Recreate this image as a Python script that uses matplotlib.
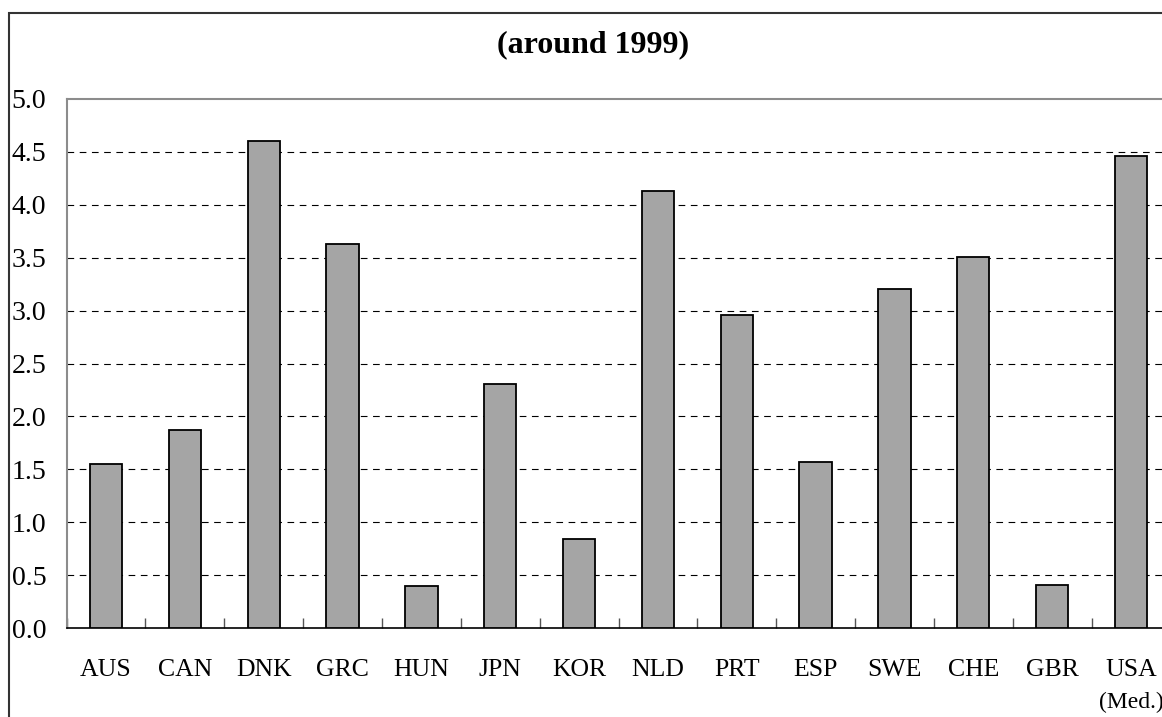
import matplotlib.pyplot as plt
import matplotlib.patches as mpatches
import numpy as np

plt.rcParams['font.family'] = ['Liberation Serif', 'DejaVu Serif']

countries = ["AUS", "CAN", "DNK", "GRC", "HUN", "JPN", "KOR",
             "NLD", "PRT", "ESP", "SWE", "CHE", "GBR", "USA"]
values = [1.55, 1.87, 4.60, 3.63, 0.40, 2.31, 0.84,
          4.13, 2.96, 1.57, 3.20, 3.51, 0.41, 4.46]
yticks = [0.0, 0.5, 1.0, 1.5, 2.0, 2.5, 3.0, 3.5, 4.0, 4.5, 5.0]
title = "(around 1999)"
usa_note = "(Med.)"

W, H = 1162, 717
fig = plt.figure(figsize=(W / 100, H / 100), dpi=100)

# plot area runs past the right edge, as in the source
ax = fig.add_axes([66.6 / W, (H - 628) / H, 1103.8 / W, 529 / H])

x = np.arange(len(countries))
ax.bar(x, values, width=0.41, color="#a5a5a5", edgecolor="black",
       linewidth=1.3, zorder=3)

ax.set_xlim(-0.5, len(countries) - 0.5)
ax.set_ylim(0, 5)

# dashed gridlines (top one is the grey frame)
for yv in yticks[1:-1]:
    ax.axhline(yv, color="black", linestyle=(0, (6, 5)), linewidth=0.8, zorder=1)

ax.spines["top"].set_color("#8c8c8c")
ax.spines["top"].set_linewidth(1.5)
ax.spines["left"].set_color("#8c8c8c")
ax.spines["left"].set_linewidth(1.5)
ax.spines["right"].set_visible(False)
ax.spines["bottom"].set_color("black")
ax.spines["bottom"].set_linewidth(1.2)

ax.set_yticks(yticks)
ax.set_yticklabels([f"{v:.1f}" for v in yticks], fontsize=20)
ax.tick_params(axis="y", length=0, pad=39.6)
for lbl in ax.get_yticklabels():
    lbl.set_ha("left")

ax.set_xticks(x)
ax.set_xticklabels(countries, fontsize=18.5)
ax.tick_params(axis="x", which="major", length=0, pad=22)
ax.set_xticks(np.arange(-0.5, len(countries), 1.0), minor=True)
ax.tick_params(axis="x", which="minor", direction="in", length=7,
               width=1, color="#555555")

ax.text(len(countries) - 1, -(702 - 628) / 529, usa_note, fontsize=17,
        ha="center", va="center", transform=ax.get_xaxis_transform())

fig.text(593.5 / W, 1 - 45 / H, title, fontsize=23, fontweight="bold",
         ha="center", va="center")

# outer frame around the chart
frame = mpatches.Rectangle((9 / W, -0.05), 1.2, 1 - 13 / H + 0.05,
                           transform=fig.transFigure, fill=False,
                           edgecolor="#333333", linewidth=1.5, clip_on=False)
fig.patches.append(frame)

fig.savefig("out.png", dpi=100)
